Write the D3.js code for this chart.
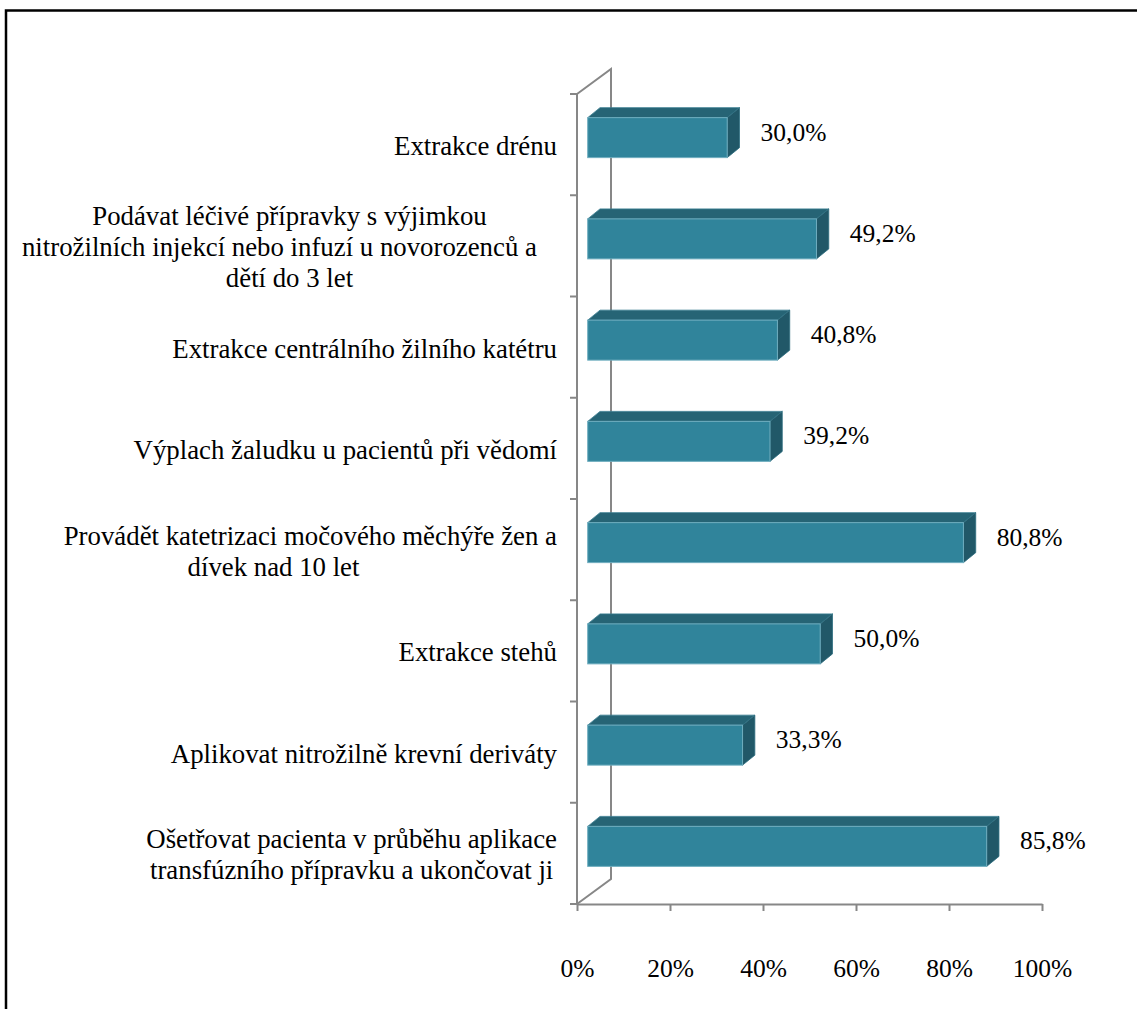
<!DOCTYPE html>
<html>
<head>
<meta charset="utf-8">
<script src="https://cdn.jsdelivr.net/npm/d3@7"></script>
<style>
  html, body { margin: 0; padding: 0; background: #fff; }
  svg { display: block; }
</style>
</head>
<body>
<svg id="chart" width="1137" height="1009"></svg>
<script>
// Category labels (top to bottom); each entry lists its wrapped lines
const categories = [
  ["Extrakce drénu"],
  ["Podávat léčivé přípravky s výjimkou",
   "nitrožilních injekcí nebo infuzí u novorozenců a\u00A0\u00A0\u00A0",
   "dětí do 3 let"],
  ["Extrakce centrálního žilního katétru"],
  ["Výplach žaludku u pacientů při vědomí"],
  ["Provádět katetrizaci močového měchýře žen a",
   "dívek nad 10 let\u00A0\u00A0\u00A0\u00A0\u00A0\u00A0\u00A0\u00A0\u00A0\u00A0\u00A0"],
  ["Extrakce stehů"],
  ["Aplikovat nitrožilně krevní deriváty"],
  ["Ošetřovat pacienta v průběhu aplikace",
   "transfúzního přípravku a ukončovat ji"]
];
// Share of respondents, percent
const values = [30.0, 49.2, 40.8, 39.2, 80.8, 50.0, 33.3, 85.8];
// Horizontal axis ticks, percent
const tickValues = [0, 20, 40, 60, 80, 100];

const svg = d3.select("#chart");
const font = "Liberation Serif";
const catSize = 26.8;
const valSize = 25.5;

// Front plane of the plot area
const x = d3.scaleLinear().domain([0, 100]).range([577, 1042]);
const y = d3.scaleBand().domain(d3.range(categories.length)).range([94, 904]);

// Depth vectors for the 3-D look
const wall = { dx: 34, dy: -25 };       // floor / side wall depth
const barFront = { dx: 10.7, dy: -7 };  // where bar fronts sit in depth
const barDepth = { dx: 12.3, dy: -10 }; // thickness of each bar
const barH = 40;

const axisColor = "#878787";

// Outer frame (top and left edges)
svg.append("path")
  .attr("d", "M6,1009 V10.5 H1137")
  .attr("fill", "none")
  .attr("stroke", "#000")
  .attr("stroke-width", 2.5);

// Side wall and floor edges
const g = svg.append("g");
const y0 = y.range()[0], y1 = y.range()[1];
g.append("path")
  .attr("d", `M${x(0)},${y0} L${x(0) + wall.dx},${y0 + wall.dy} V${y1 + wall.dy} L${x(0)},${y1}`)
  .attr("fill", "none")
  .attr("stroke", axisColor)
  .attr("stroke-width", 2);

// Vertical category axis with ticks at band boundaries
g.append("line")
  .attr("x1", x(0)).attr("x2", x(0))
  .attr("y1", y0).attr("y2", y1)
  .attr("stroke", axisColor).attr("stroke-width", 2);
g.selectAll(".ytick")
  .data(d3.range(categories.length + 1))
  .join("line")
  .attr("class", "ytick")
  .attr("x1", x(0) - 7).attr("x2", x(0))
  .attr("y1", i => y0 + i * y.step())
  .attr("y2", i => y0 + i * y.step())
  .attr("stroke", axisColor).attr("stroke-width", 2);

// Horizontal value axis
const xAxis = d3.axisBottom(x)
  .tickValues(tickValues)
  .tickFormat(d => d + "%")
  .tickSize(7)
  .tickSizeOuter(0)
  .tickPadding(48);
const xg = svg.append("g")
  .attr("transform", `translate(0,${y1})`)
  .call(xAxis);
xg.select(".domain").attr("stroke", axisColor).attr("stroke-width", 2);
xg.selectAll(".tick line").attr("stroke", axisColor).attr("stroke-width", 2);
xg.selectAll(".tick text")
  .style("font-family", font)
  .style("font-size", valSize + "px")
  .attr("fill", "#000");

// 3-D bars
const colors = { front: "#30849b", top: "#266475", side: "#215868" };
const bars = svg.append("g").selectAll("g.bar")
  .data(values.map((v, i) => ({ v, i })))
  .join("g")
  .attr("class", "bar");

function geom(d) {
  const cy = y(d.i) + y.bandwidth() / 2 + barFront.dy;
  const fx0 = x(0) + barFront.dx;
  const fx1 = x(d.v) + barFront.dx;
  const fy0 = cy - barH / 2, fy1 = cy + barH / 2;
  return { fx0, fx1, fy0, fy1, cy };
}

bars.append("path") // top face
  .attr("d", d => {
    const q = geom(d);
    return `M${q.fx0},${q.fy0} L${q.fx0 + barDepth.dx},${q.fy0 + barDepth.dy} H${q.fx1 + barDepth.dx} L${q.fx1},${q.fy0} Z`;
  })
  .attr("fill", colors.top)
  .attr("stroke", "#3a7d90").attr("stroke-width", 0.8);

bars.append("path") // right side face
  .attr("d", d => {
    const q = geom(d);
    return `M${q.fx1},${q.fy0} L${q.fx1 + barDepth.dx},${q.fy0 + barDepth.dy} V${q.fy1 + barDepth.dy} L${q.fx1},${q.fy1} Z`;
  })
  .attr("fill", colors.side)
  .attr("stroke", "#2f6e80").attr("stroke-width", 0.8);

bars.append("rect") // front face
  .attr("x", d => geom(d).fx0)
  .attr("y", d => geom(d).fy0)
  .attr("width", d => geom(d).fx1 - geom(d).fx0)
  .attr("height", barH)
  .attr("fill", colors.front)
  .attr("stroke", "#6fadbf").attr("stroke-width", 1);

// Value labels
const fmt = v => d3.format(".1f")(v).replace(".", ",") + "%";
svg.append("g").selectAll("text")
  .data(values.map((v, i) => ({ v, i })))
  .join("text")
  .attr("x", d => x(d.v) + barFront.dx + barDepth.dx + 21)
  .attr("y", d => geom(d).cy + barDepth.dy / 2 - 1)
  .attr("dy", "0.35em")
  .style("font-family", font)
  .style("font-size", valSize + "px")
  .attr("fill", "#000")
  .text(d => fmt(d.v));

// Category labels: wrapped lines centered within a right-aligned block
const labelRight = 557;
const lineH = 31;
const lg = svg.append("g");
categories.forEach((lines, i) => {
  const t = lg.append("text")
    .style("font-family", font)
    .style("font-size", catSize + "px")
    .style("white-space", "pre")
    .attr("fill", "#000");
  const cy = y(i) + y.bandwidth() / 2 + 1;
  const spans = lines.map((ln, k) => t.append("tspan")
    .attr("y", cy + (k - (lines.length - 1) / 2) * lineH)
    .attr("dy", "0.35em")
    .text(ln));
  const widths = spans.map(s => s.node().getComputedTextLength());
  const w = d3.max(widths);
  const cx = labelRight - w / 2;
  spans.forEach(s => s.attr("x", cx).attr("text-anchor", "middle"));
});
</script>
</body>
</html>
